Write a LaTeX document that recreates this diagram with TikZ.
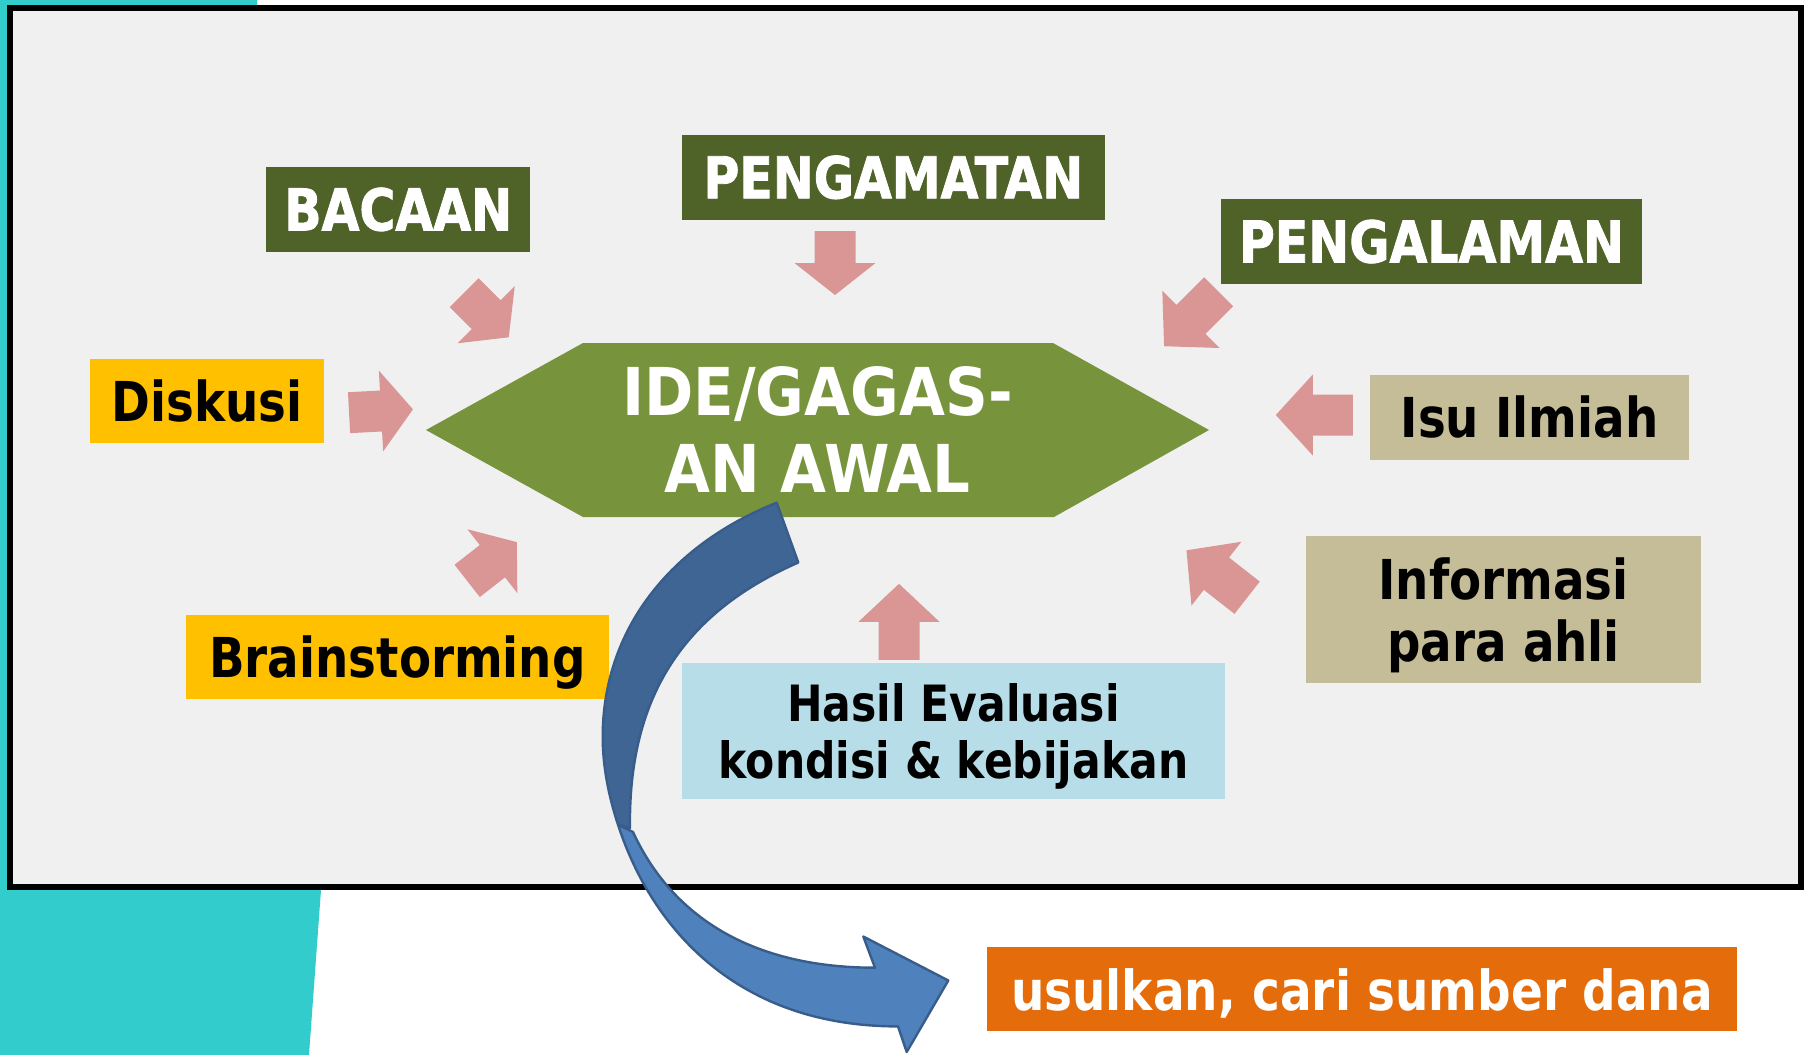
\documentclass[tikz,border=0pt]{standalone}
\usepackage{fontspec}
\setmainfont{DejaVu Sans}
\newfontfamily\boxfont[FakeStretch=0.85]{DejaVu Sans}
\newfontfamily\headfont[FakeStretch=0.85,BoldFeatures={FakeBold=1.5}]{DejaVu Sans}
\newfontfamily\hexfont[FakeStretch=0.9]{DejaVu Sans}

\definecolor{tealbg}{HTML}{33CCCC}
\definecolor{panel}{HTML}{F0F0F0}
\definecolor{headgreen}{HTML}{4F6228}
\definecolor{ideagreen}{HTML}{77933C}
\definecolor{arrowpink}{HTML}{D99694}
\definecolor{gold}{HTML}{FFC000}
\definecolor{tan}{HTML}{C4BD97}
\definecolor{lightblue}{HTML}{B7DEE8}
\definecolor{orange}{HTML}{E46C0A}
\definecolor{bluedark}{HTML}{3E6593}
\definecolor{bluelight}{HTML}{4F81BD}
\definecolor{blueline}{HTML}{385D8A}

% block arrow: centre, angle, length, head length
\newcommand{\pinkarrow}[4]{%
  \fill[arrowpink,shift={(#1)},rotate=#2]
    (-#3/2,-20.5) -- (#3/2-#4,-20.5) -- (#3/2-#4,-40.5) -- (#3/2,0)
    -- (#3/2-#4,40.5) -- (#3/2-#4,20.5) -- (-#3/2,20.5) -- cycle;}

\begin{document}
\begin{tikzpicture}[x=0.5pt,y=-0.5pt,
    box/.style={inner sep=0pt,outer sep=0pt,align=center},
    headbox/.style={box,fill=headgreen,text=white,minimum height=42.4pt,
      text height=21pt,text depth=0pt,
      font=\headfont\bfseries\fontsize{28.8}{30}\selectfont},
    goldbox/.style={box,fill=gold,minimum height=42pt,
      text height=20pt,text depth=0pt,
      font=\boxfont\bfseries\fontsize{27.5}{31}\selectfont},
    tanbox/.style={box,fill=tan,
      font=\boxfont\bfseries\fontsize{27.5}{31}\selectfont},
    curved/.style={draw=blueline,line width=1.2pt,line join=round}]
\useasboundingbox (0,0) rectangle (1806,1055);

% background
\fill[tealbg] (0,0) -- (257,0) -- (325,830) -- (321,890) -- (309,1055) -- (0,1055) -- cycle;
\draw[line width=3pt,fill=panel] (10,7.7) rectangle (1801,887);

% centre
\fill[ideagreen] (426,430) -- (583,343) -- (1053,343) -- (1209,430)
  -- (1054,517) -- (583,517) -- cycle;
\node[box,text=white,font=\hexfont\bfseries\fontsize{33}{38.5}\selectfont]
  (ide) at (817.5,430) {IDE/GAGAS-\\AN AWAL};

% sources
\node[headbox,minimum width=132.2pt] (bacaan) at (398.2,209.4) {BACAAN};
\node[headbox,minimum width=211.3pt] (pengamatan) at (893.3,177.3) {PENGAMATAN};
\node[headbox,minimum width=210.5pt] (pengalaman) at (1431.5,241.5) {PENGALAMAN};
\node[goldbox,minimum width=117pt] (diskusi) at (207,401) {Diskusi};
\node[goldbox,minimum width=211.5pt] (brain) at (397.5,657) {Brainstorming};
\node[tanbox,minimum width=159.5pt,minimum height=42.5pt,text height=20pt,text depth=0pt]
  (isu) at (1529.5,417.5) {Isu Ilmiah};
\node[tanbox,minimum width=197.5pt,minimum height=73.5pt] (info) at (1503.5,609.5)
  {\rule{0pt}{27pt}Informasi\\para ahli};
\node[box,fill=lightblue,minimum width=271.5pt,minimum height=67.9pt,
  font=\boxfont\bfseries\fontsize{25}{28.5}\selectfont]
  (hasil) at (953.5,730.8) {\rule{0pt}{25pt}Hasil Evaluasi\\kondisi \& kebijakan};
\node[box,fill=orange,text=white,minimum width=375pt,minimum height=42pt,
  text height=21pt,text depth=0pt,
  font=\boxfont\bfseries\fontsize{27.6}{30}\selectfont]
  (usul) at (1362,989) {usulkan, cari sumber dana};

% pink arrows
\coordinate (a_bac) at (486.5,315);
\coordinate (a_amat) at (835,263);
\coordinate (a_alam) at (1191.3,319);
\coordinate (a_disk) at (381,411);
\coordinate (a_brain) at (492,561.5);
\coordinate (a_hasil) at (899,621.8);
\coordinate (a_info) at (1216.8,574);
\coordinate (a_isu) at (1314.3,415);
\pinkarrow{a_bac}{-45}{63}{32}
\pinkarrow{a_amat}{-90}{64}{32}
\pinkarrow{a_alam}{-135}{77}{38}
\pinkarrow{a_disk}{3}{64}{32}
\pinkarrow{a_brain}{38}{63}{31}
\pinkarrow{a_hasil}{90}{76}{38}
\pinkarrow{a_info}{142}{77}{38}
\pinkarrow{a_isu}{180}{77}{37}

% curved arrow
\filldraw[curved,fill=bluedark]
  (776.7,502.7) .. controls (670,545) and (602.7,630) .. (602.7,736.7)
  .. controls (602.7,766.7) and (608.7,796.2) .. (618,824.7)
  -- (630,828) .. controls (628,690) and (690,610) .. (798.3,562.5) -- cycle;
\filldraw[curved,fill=bluelight]
  (618,824.7) .. controls (652,929.2) and (738,1026.4) .. (898,1026.4)
  -- (906.7,1052) -- (948.3,980.5) -- (863.3,936.5) -- (875,967.7)
  .. controls (760,967.7) and (675,923) .. (633,832) -- cycle;
\end{tikzpicture}
\end{document}
